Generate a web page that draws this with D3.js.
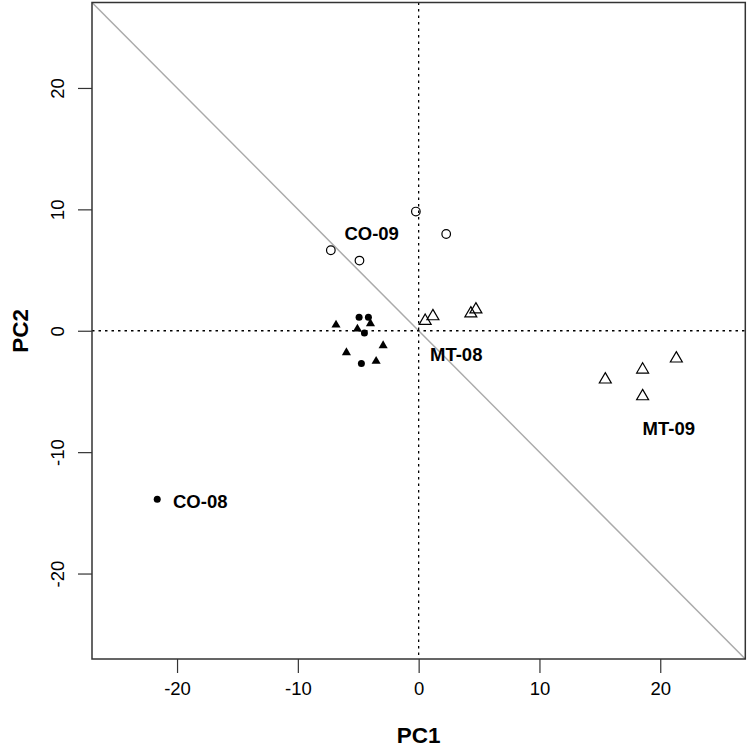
<!DOCTYPE html>
<html>
<head>
<meta charset="utf-8">
<script src="https://cdn.jsdelivr.net/npm/d3@7"></script>
<style>
  body { margin: 0; background: #fff; }
  svg text { font-family: "Liberation Sans", Arial, sans-serif; }
</style>
</head>
<body>
<div id="chart"></div>
<script>
const width = 750;
const height = 747;

// scores
const co09 = [[-7.27, 6.63], [-4.90, 5.78], [-0.23, 9.82], [2.28, 7.97]];
const co08 = [[-4.93, 1.11], [-4.16, 1.11], [-4.49, -0.18], [-4.74, -2.70], [-21.64, -13.88]];
const filledTri = [[-6.84, 0.48], [-5.07, 0.15], [-3.99, 0.59], [-2.94, -1.22], [-5.98, -1.80], [-3.52, -2.51]];
const mt08 = [[0.54, 0.81], [1.18, 1.19], [4.32, 1.42], [4.74, 1.75]];
const mt09 = [[15.45, -4.02], [18.54, -3.20], [21.33, -2.29], [18.54, -5.40]];

const groupLabels = ["CO-09", "MT-08", "MT-09", "CO-08"];
const labelPos = [[-3.89, 8.03], [3.11, -1.94], [20.71, -8.03], [-18.08, -14.02]];

const tickValues = [-20, -10, 0, 10, 20];
const lim = 26 * 1.04;

const plotL = 92, plotR = 745.3, plotT = 2.5, plotB = 659;

const svg = d3.select("#chart").append("svg")
  .attr("width", width)
  .attr("height", height);

const x = d3.scaleLinear().domain([-lim, lim]).range([plotL, plotR]);
const y = d3.scaleLinear().domain([-lim, lim]).range([plotB, plotT]);

// diagonal reference line y = -x
svg.append("line")
  .attr("x1", x(-lim)).attr("y1", y(lim))
  .attr("x2", x(lim)).attr("y2", y(-lim))
  .attr("stroke", "#aaaaaa")
  .attr("stroke-width", 1.5);

// zero lines
svg.append("line")
  .attr("x1", x(0)).attr("x2", x(0))
  .attr("y1", plotT).attr("y2", plotB)
  .attr("stroke", "#000").attr("stroke-width", 1.3)
  .attr("stroke-dasharray", "2.5,4");
svg.append("line")
  .attr("x1", plotL).attr("x2", plotR)
  .attr("y1", y(0)).attr("y2", y(0))
  .attr("stroke", "#000").attr("stroke-width", 1.3)
  .attr("stroke-dasharray", "2.5,4");

// axes (plain hyphen for negatives, like R)
const fmt = d => String(d);
const xAxis = svg.append("g")
  .attr("transform", "translate(0," + plotB + ")")
  .call(d3.axisBottom(x).tickValues(tickValues).tickSize(14).tickPadding(10).tickFormat(fmt));
const yAxis = svg.append("g")
  .attr("transform", "translate(" + plotL + ",0)")
  .call(d3.axisLeft(y).tickValues(tickValues).tickSize(14).tickPadding(10).tickFormat(fmt));

[xAxis, yAxis].forEach(g => {
  g.select(".domain").remove();
  g.selectAll(".tick line").attr("stroke", "#333").attr("stroke-width", 1.2);
  g.selectAll(".tick text")
    .attr("fill", "#000")
    .style("font-size", "18.5px");
});
xAxis.selectAll(".tick text").attr("dy", "0.71em").attr("y", 23);
yAxis.selectAll(".tick text")
  .attr("x", null)
  .attr("text-anchor", "middle")
  .attr("transform", "translate(-28,0) rotate(-90)")
  .attr("dy", "0");

// box
svg.append("rect")
  .attr("x", plotL).attr("y", plotT)
  .attr("width", plotR - plotL).attr("height", plotB - plotT)
  .attr("fill", "none")
  .attr("stroke", "#333")
  .attr("stroke-width", 1.5);

// points
svg.selectAll(".co09").data(co09).enter().append("circle")
  .attr("cx", d => x(d[0])).attr("cy", d => y(d[1]))
  .attr("r", 4.3)
  .attr("fill", "none").attr("stroke", "#000").attr("stroke-width", 1.2);

svg.selectAll(".co08").data(co08).enter().append("circle")
  .attr("cx", d => x(d[0])).attr("cy", d => y(d[1]))
  .attr("r", 3.5)
  .attr("fill", "#000");

const triBig = d3.symbol().type(d3.symbolTriangle).size(62);
const triSmall = d3.symbol().type(d3.symbolTriangle).size(36);

svg.selectAll(".ftri").data(filledTri).enter().append("path")
  .attr("d", triSmall)
  .attr("transform", d => "translate(" + x(d[0]) + "," + y(d[1]) + ")")
  .attr("fill", "#000");

svg.selectAll(".otri").data(mt08.concat(mt09)).enter().append("path")
  .attr("d", triBig)
  .attr("transform", d => "translate(" + x(d[0]) + "," + y(d[1]) + ")")
  .attr("fill", "none").attr("stroke", "#000").attr("stroke-width", 1.2);

// group labels
svg.selectAll(".grp").data(groupLabels).enter().append("text")
  .attr("x", (d, i) => x(labelPos[i][0]))
  .attr("y", (d, i) => y(labelPos[i][1]))
  .attr("dy", "0.36em")
  .attr("text-anchor", "middle")
  .style("font-size", "18.5px")
  .style("font-weight", "bold")
  .text(d => d);

// axis titles
svg.append("text")
  .attr("x", x(0)).attr("y", 735)
  .attr("dy", "0.36em")
  .attr("text-anchor", "middle")
  .style("font-size", "22.5px").style("font-weight", "bold")
  .text("PC1");
svg.append("text")
  .attr("transform", "translate(20," + y(0) + ") rotate(-90)")
  .attr("dy", "0.36em")
  .attr("text-anchor", "middle")
  .style("font-size", "22.5px").style("font-weight", "bold")
  .text("PC2");
</script>
</body>
</html>
